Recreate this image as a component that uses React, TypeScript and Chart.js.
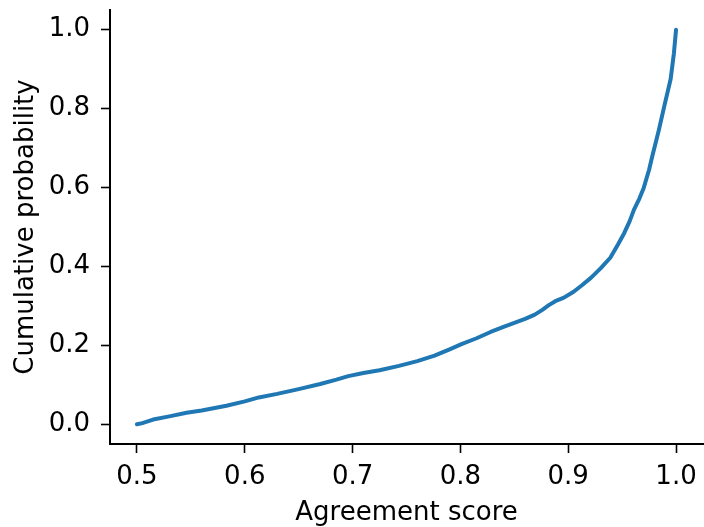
import React, { useEffect, useRef } from "react";
import { Chart, registerables } from "chart.js";

Chart.register(...registerables);

const agreementScores = [
  0.5, 0.505, 0.515, 0.53, 0.546, 0.56, 0.583, 0.6, 0.613, 0.63, 0.65, 0.67,
  0.685, 0.696, 0.71, 0.725, 0.743, 0.76, 0.776, 0.79, 0.801, 0.815, 0.828,
  0.84, 0.85, 0.86, 0.869, 0.876, 0.882, 0.888, 0.896, 0.905, 0.913, 0.921,
  0.93, 0.939, 0.946, 0.952, 0.957, 0.961, 0.966, 0.97, 0.975, 0.978, 0.981,
  0.984, 0.989, 0.995, 0.998, 1.0,
];
const cumulativeProbs = [
  0.0, 0.003, 0.012, 0.02, 0.029, 0.035, 0.047, 0.058, 0.068, 0.077, 0.089,
  0.102, 0.113, 0.122, 0.13, 0.137, 0.148, 0.16, 0.174, 0.19, 0.203, 0.218,
  0.234, 0.247, 0.257, 0.267, 0.278, 0.29, 0.302, 0.312, 0.321, 0.336, 0.353,
  0.371, 0.395, 0.422, 0.455, 0.485, 0.515, 0.544, 0.572, 0.599, 0.645, 0.68,
  0.712, 0.745, 0.805, 0.875, 0.94, 1.0,
];
const xTicks = [0.5, 0.6, 0.7, 0.8, 0.9, 1.0];
const yTicks = [0.0, 0.2, 0.4, 0.6, 0.8, 1.0];

const FONT = "'DejaVu Sans', sans-serif";

export default function App() {
  const ref = useRef<HTMLCanvasElement | null>(null);
  useEffect(() => {
    if (!ref.current) return;
    const points = agreementScores.map((x, i) => ({ x, y: cumulativeProbs[i] }));
    const chart = new Chart(ref.current, {
      type: "line",
      data: {
        datasets: [
          {
            data: points,
            borderColor: "#1f77b4",
            borderWidth: 4,
            pointRadius: 0,
            tension: 0,
            fill: false,
            borderJoinStyle: "round",
            borderCapStyle: "round",
          },
        ],
      },
      options: {
        animation: false,
        responsive: false,
        maintainAspectRatio: false,
        layout: { padding: { top: 10, right: 1, left: 0, bottom: 0 } },
        plugins: { legend: { display: false }, tooltip: { enabled: false } },
        scales: {
          x: {
            type: "linear",
            min: 0.475,
            max: 1.025,
            afterBuildTicks: (s: any) => {
              s.ticks = xTicks.map((v) => ({ value: v }));
            },
            afterFit: (s: any) => {
              s.height = 83;
              s.paddingLeft = 0;
              s.paddingRight = 0;
            },
            ticks: {
              color: "#000",
              font: { family: FONT, size: 26 },
              padding: 9,
              maxRotation: 0,
              callback: (v: any) => Number(v).toFixed(1),
            },
            grid: {
              display: true,
              drawOnChartArea: false,
              drawTicks: true,
              tickLength: 9,
              tickColor: "#000",
              tickWidth: 1.6,
            },
            border: { display: true, color: "#000", width: 2 },
            title: {
              display: true,
              text: "Agreement score",
              color: "#000",
              font: { family: FONT, size: 26 },
              padding: { top: 0, bottom: -2 },
            },
          },
          y: {
            type: "linear",
            min: -0.05,
            max: 1.05,
            afterBuildTicks: (s: any) => {
              s.ticks = yTicks.map((v) => ({ value: v }));
            },
            afterFit: (s: any) => {
              s.width = 110;
              s.paddingTop = 0;
              s.paddingBottom = 0;
            },
            ticks: {
              color: "#000",
              font: { family: FONT, size: 26 },
              padding: 11,
              callback: (v: any) => Number(v).toFixed(1),
            },
            grid: {
              display: true,
              drawOnChartArea: false,
              drawTicks: true,
              tickLength: 9,
              tickColor: "#000",
              tickWidth: 1.6,
            },
            border: { display: true, color: "#000", width: 2 },
            title: {
              display: true,
              text: "Cumulative probability",
              color: "#000",
              font: { family: FONT, size: 26 },
              padding: { top: 11, bottom: 0 },
            },
          },
        },
      },
    });
    return () => chart.destroy();
  }, []);
  return (
    <div style={{ position: "fixed", left: 0, top: 0, width: 704, height: 527, background: "#fff" }}>
      <canvas ref={ref} width={704} height={527} style={{ width: 704, height: 527, display: "block" }} />
    </div>
  );
}
